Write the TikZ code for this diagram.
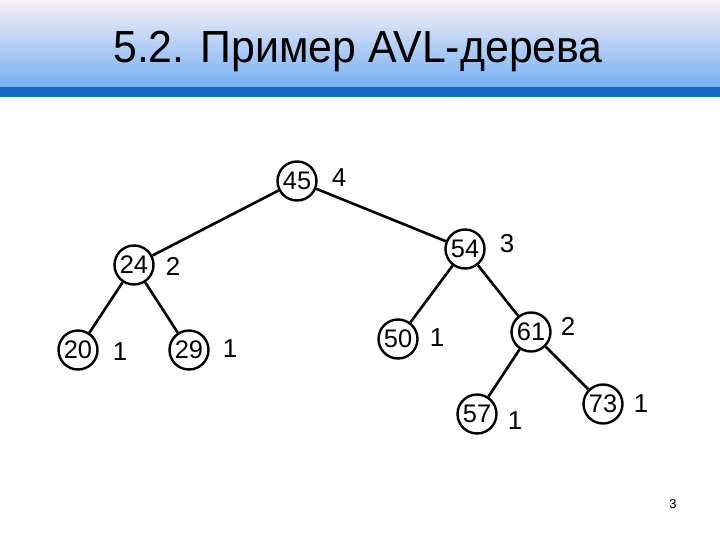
\documentclass[tikz,border=0pt]{standalone}
\usepackage{fontspec}
\setmainfont{Liberation Sans}
\begin{document}
\begin{tikzpicture}[x=1bp,y=-1bp,
  nd/.style={circle,draw=black,line width=2.4bp,minimum size=39bp,inner sep=0pt,font=\fontsize{25.5}{25.5}\selectfont},
  bf/.style={inner sep=0pt,font=\fontsize{26}{26}\selectfont},
  edge/.style={line width=2.6bp}]
\useasboundingbox (0,0) rectangle (720,540);
\definecolor{hdtop}{RGB}{248,240,246}
\definecolor{hdbot}{RGB}{118,176,244}
\definecolor{band}{RGB}{22,104,196}
\definecolor{bandline}{RGB}{12,120,150}
\fill[white] (0,0) rectangle (720,540);
\shade[top color=hdtop,bottom color=hdbot] (0,0) rectangle (720,87);
\fill[band] (0,87) rectangle (720,95);
\fill[bandline] (0,95) rectangle (720,97);
\node[anchor=base,inner sep=0pt,font=\fontsize{43}{43}\selectfont,yscale=1.05] (title) at (358,63) {5.2. Пример AVL-дерева};
% tree nodes
\node[nd] (n45) at (297,181) {45};
\node[nd] (n24) at (134,265) {24};
\node[nd] (n20) at (78,350) {20};
\node[nd] (n29) at (189,350) {29};
\node[nd] (n54) at (465,249) {54};
\node[nd] (n50) at (398,339) {50};
\node[nd] (n61) at (531,332) {61};
\node[nd] (n57) at (477,414) {57};
\node[nd] (n73) at (603,404) {73};
% balance labels
\node[bf] (b45) at (339,178) {4};
\node[bf] (b24) at (173,266) {2};
\node[bf] (b20) at (120,352) {1};
\node[bf] (b29) at (230,349) {1};
\node[bf] (b54) at (507,244) {3};
\node[bf] (b50) at (437,338) {1};
\node[bf] (b61) at (568,326) {2};
\node[bf] (b57) at (515,421) {1};
\node[bf] (b73) at (641,404) {1};
% edges
\draw[edge] (n45) -- (n24);
\draw[edge] (n45) -- (n54);
\draw[edge] (n24) -- (n20);
\draw[edge] (n24) -- (n29);
\draw[edge] (n54) -- (n50);
\draw[edge] (n54) -- (n61);
\draw[edge] (n61) -- (n57);
\draw[edge] (n61) -- (n73);
\node[inner sep=0pt,font=\fontsize{13}{13}\selectfont] (page) at (673,504) {3};
\end{tikzpicture}
\end{document}
